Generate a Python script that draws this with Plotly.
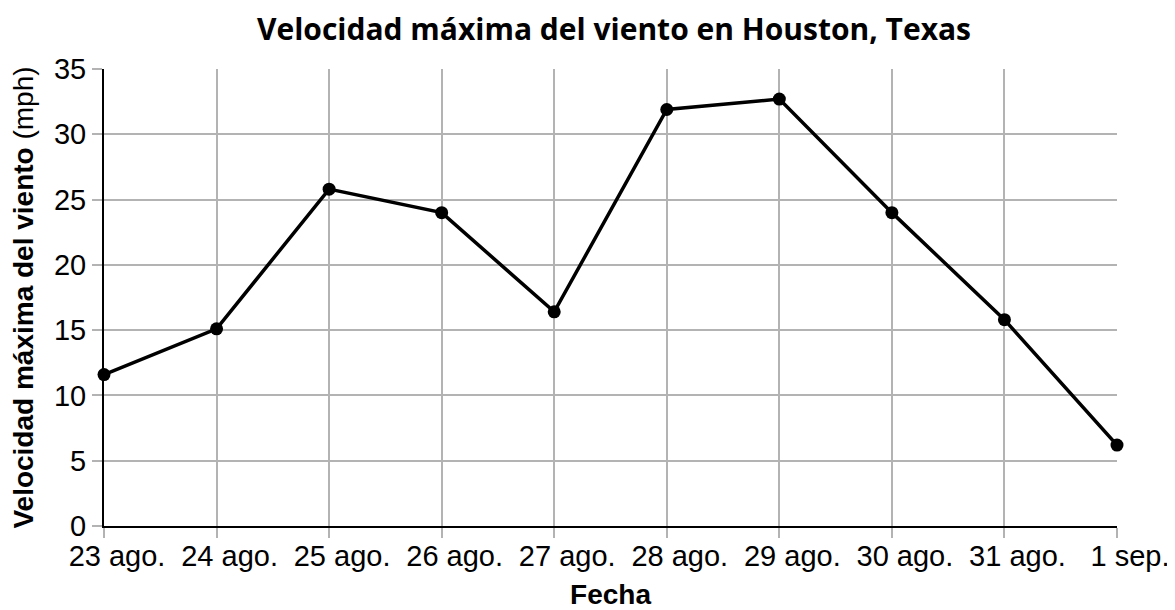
import plotly.graph_objects as go

fechas = ["23 ago.", "24 ago.", "25 ago.", "26 ago.", "27 ago.",
          "28 ago.", "29 ago.", "30 ago.", "31 ago.", "1 sep."]
velocidad = [11.6, 15.1, 25.8, 24.0, 16.4, 31.9, 32.7, 24.0, 15.8, 6.2]
y_ticks = [0, 5, 10, 15, 20, 25, 30, 35]

titulo = "Velocidad máxima del viento en Houston, Texas"
titulo_y = "<b>Velocidad máxima del viento</b> (mph)"
titulo_x = "<b>Fecha</b>"

GRID = "#b3b3b3"
AXFONT = "Liberation Sans, Arial, sans-serif"

# page body has an 8px margin, so the figure is 8px smaller than the window
W, H = 1167, 602

fig = go.Figure(go.Scatter(
    x=fechas, y=velocidad, mode="lines+markers",
    line=dict(color="black", width=3.5),
    marker=dict(color="black", size=13),
    cliponaxis=False, showlegend=False,
))

fig.update_layout(
    width=W, height=H,
    margin=dict(l=96, r=58, t=61, b=84, autoexpand=False),
    paper_bgcolor="white", plot_bgcolor="white",
    title=dict(text="<b>" + titulo + "</b>", x=606 / W, xanchor="center",
               y=1 - 21 / H, yanchor="middle",
               font=dict(family="Open Sans, sans-serif", size=30, color="black")),
    font=dict(family=AXFONT, color="black"),
)

fig.update_xaxes(
    type="category", range=[0, 9], automargin=False,
    showgrid=True, gridcolor=GRID, gridwidth=2,
    showline=True, linecolor="black", linewidth=2,
    ticks="outside", ticklen=10, tickwidth=2, tickcolor=GRID,
    tickfont=dict(family=AXFONT, size=29, color="black"),
    ticklabelshift=13, ticklabelstandoff=-7,
    title=dict(text=titulo_x, font=dict(family=AXFONT, size=28, color="black"), standoff=17),
    zeroline=False,
)
fig.update_yaxes(
    range=[0, 35], tickvals=y_ticks, automargin=False,
    showgrid=True, gridcolor=GRID, gridwidth=2,
    showline=True, linecolor="black", linewidth=2,
    ticks="outside", ticklen=10, tickwidth=2, tickcolor=GRID,
    tickfont=dict(family=AXFONT, size=29, color="black"),
    title=dict(text=titulo_y, font=dict(family=AXFONT, size=28, color="black"), standoff=15),
    zeroline=False,
)

fig.write_html("out.html")
